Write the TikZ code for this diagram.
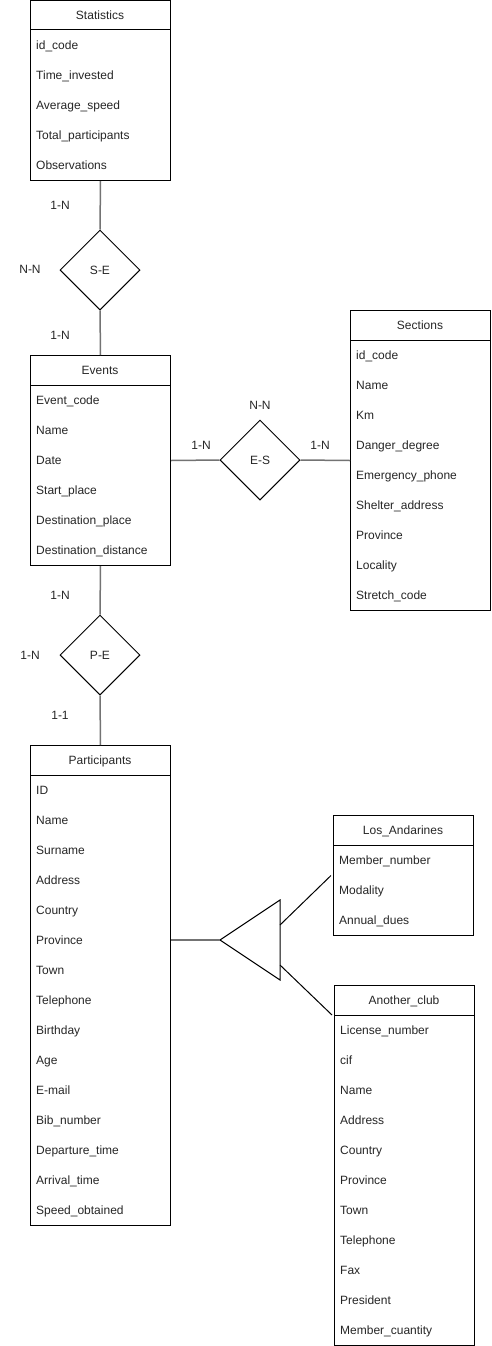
\documentclass[tikz,border=0pt]{standalone}
\usepackage{fontspec}
\setmainfont{Liberation Sans}
\usetikzlibrary{calc,shapes.geometric}
\begin{document}
\begin{tikzpicture}[x=1pt,y=-1pt,
  txt/.style={font=\fontsize{12}{14}\selectfont, text=black!85},
  box/.style={draw=black, line width=1pt, fill=white, anchor=north west,
    minimum width=140pt, inner sep=0pt},
  title/.style={txt, inner sep=0pt, text height=8.6pt, text depth=2.4pt, yshift=-1pt},
  attr/.style={txt, anchor=west, inner sep=0pt, text height=8.6pt, text depth=2.4pt, yshift=-1pt},
  rel/.style={draw=black, line width=1pt, diamond, aspect=1, inner sep=0pt,
    minimum width=80pt, minimum height=80pt, txt},
  card/.style={txt, inner sep=0pt, text height=8.6pt, text depth=2.4pt},
  link/.style={draw=black!55, line width=1.5pt},
  isaline/.style={draw=black, line width=1pt}
]
% canvas
\path[use as bounding box, fill=white] (0,0) rectangle (491,1346);

% entity: name, x, y, title, attribute count, attributes
\newcommand\erentity[6]{%
  \node[box, minimum height={30+30*#5}] (#1) at (#2,#3) {};
  \draw[line width=1pt] ($(#1.north west)+(0,30)$) -- ($(#1.north east)+(0,30)$);
  \node[title] (#1-title) at ({#2+70},{#3+15}) {#4};
  \foreach \a [count=\i] in {#6} {
    \node[attr] (#1-\i) at ({#2+6},{#3+15+30*\i}) {\a};
  }%
}

\erentity{stat}{30}{0}{Statistics}{5}{id\_code, Time\_invested, Average\_speed,
  Total\_participants, Observations}
\erentity{ev}{30}{355}{Events}{6}{Event\_code, Name, Date, Start\_place,
  Destination\_place, Destination\_distance}
\erentity{sec}{350}{310}{Sections}{9}{id\_code, Name, Km, Danger\_degree,
  Emergency\_phone, Shelter\_address, Province, Locality, Stretch\_code}
\erentity{par}{30}{745}{Participants}{15}{ID, Name, Surname, Address, Country,
  Province, Town, Telephone, Birthday, Age, E-mail, Bib\_number,
  Departure\_time, Arrival\_time, Speed\_obtained}
\erentity{la}{333}{815}{Los\_Andarines}{3}{Member\_number, Modality, Annual\_dues}
\erentity{ac}{334}{985}{Another\_club}{11}{License\_number, cif, Name, Address,
  Country, Province, Town, Telephone, Fax, President, Member\_cuantity}

% relationships
\node[rel] (se) at (100,270) {S-E};
\node[rel] (es) at (260,460) {E-S};
\node[rel] (pe) at (100,655) {P-E};

% specialisation triangle
\coordinate (isa) at (220,940);
\coordinate (isa-up) at (280,925);
\coordinate (isa-dn) at (280,965);
\draw[isaline] (isa) -- (280,900) -- (280,980) -- cycle;
\coordinate (ac-head) at ($(ac.north west)+(-2,30)$);
\coordinate (la-side) at ($(la.west)+(-2,0)$);

% connectors
\draw[link] (stat.south) -- (se.north);
\draw[link] (se.south) -- (ev.north);
\draw[link] (ev.east) -- (es.west);
\draw[link] (es.east) -- (sec.west);
\draw[link] (ev.south) -- (pe.north);
\draw[link] (pe.south) -- (par.north);
\draw[link] (isa -| par.east) -- (isa);
\draw[isaline] (isa-up) -- (la-side);
\draw[isaline] (isa-dn) -- (ac-head);

% cardinalities
\node[card] (c1) at (60,206) {1-N};
\node[card] (c2) at (30,270) {N-N};
\node[card] (c3) at (60,336) {1-N};
\node[card] (c4) at (201,446) {1-N};
\node[card] (c5) at (260,406) {N-N};
\node[card] (c6) at (320,446) {1-N};
\node[card] (c7) at (60,596) {1-N};
\node[card] (c8) at (30,656) {1-N};
\node[card] (c9) at (60,716) {1-1};
\end{tikzpicture}
\end{document}
